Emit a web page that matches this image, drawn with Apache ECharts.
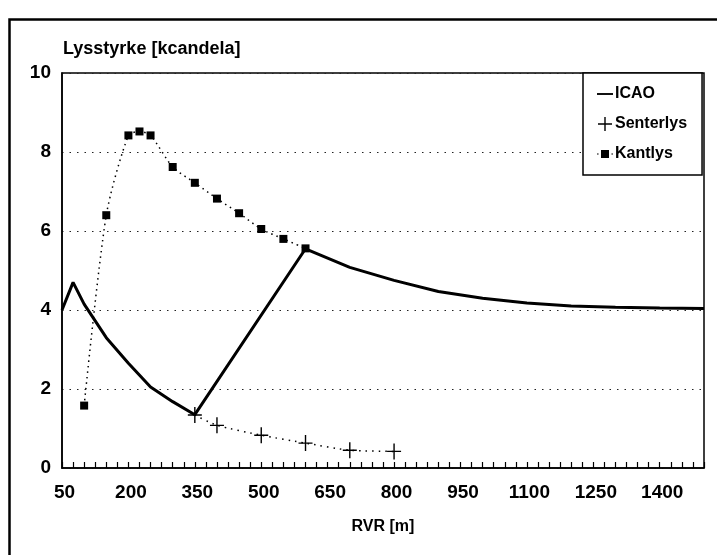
<!DOCTYPE html>
<html>
<head>
<meta charset="utf-8">
<script src="https://cdn.jsdelivr.net/npm/echarts@6/dist/echarts.min.js"></script>
<style>
html,body{margin:0;padding:0;background:#fff;}
#c{width:717px;height:555px;}
</style>
</head>
<body>
<div id="c"></div>
<script>
// ---- data ----
var icaoX = [50, 75, 100, 150, 200, 250, 300, 350, 600, 700, 800, 900, 1000, 1100, 1200, 1300, 1400, 1500];
var icaoY = [4.0, 4.7, 4.15, 3.3, 2.65, 2.05, 1.68, 1.35, 5.55, 5.08, 4.75, 4.47, 4.3, 4.18, 4.1, 4.07, 4.05, 4.04];

var senterX = [350, 400, 500, 600, 700, 800];
var senterY = [1.34, 1.08, 0.83, 0.63, 0.45, 0.42];

var kantX = [100, 150, 200, 225, 250, 300, 350, 400, 450, 500, 550, 600];
var kantY = [1.58, 6.4, 8.42, 8.52, 8.42, 7.62, 7.22, 6.82, 6.45, 6.05, 5.8, 5.56];

var xLabels = [50, 200, 350, 500, 650, 800, 950, 1100, 1250, 1400];
var yLabels = [0, 2, 4, 6, 8, 10];
var xMin = 50, xMax = 1500, xMinorStep = 25;

var seriesNames = ['ICAO', 'Senterlys', 'Kantlys'];
var yTitle = 'Lysstyrke [kcandela]';
var xTitle = 'RVR [m]';

// ---- build ----
function pairs(xs, ys) { return xs.map(function (x, i) { return [x, ys[i]]; }); }
var xTickVals = [];
for (var t = xMin; t <= xMax; t += xMinorStep) xTickVals.push(t);

var FONT = '"Liberation Sans", Arial, sans-serif';
var crossPath = 'path://M0,8.2h16v1.6h-16z M7.2,0h1.6v18h-1.6z';
var legendIcons = [
  'path://M2,7.3h12v1.4h-12z',
  'path://M1,6.3h14v1.4h-14z M7.3,0h1.4v14h-1.4z',
  'path://M0,6.4h1.6v1.2h-1.6z M4,3h8v8h-8z M14.4,6.4h1.6v1.2h-1.6z'
];

var chart = echarts.init(document.getElementById('c'), null, {renderer: 'canvas'});
chart.setOption({
  backgroundColor: '#fff',
  animation: false,
  textStyle: {fontFamily: FONT},
  graphic: [{
    type: 'rect', left: 7, top: 17, z: -10,
    shape: {x: 0, y: 0, width: 730, height: 560},
    style: {fill: 'none', stroke: '#000', lineWidth: 2.5}
  }],
  title: {
    text: yTitle, left: 58, top: 35,
    textStyle: {fontFamily: FONT, fontSize: 18, fontWeight: 'bold', color: '#000'}
  },
  grid: {
    left: 62, right: 13, top: 73, bottom: 87,
    show: true, borderColor: '#000', borderWidth: 1.5, backgroundColor: 'transparent'
  },
  legend: {
    data: seriesNames.map(function (n, i) { return {name: n, icon: legendIcons[i]}; }),
    orient: 'vertical',
    left: 583, top: 73,
    padding: [13, 15, 13, 14],
    itemGap: 14,
    itemWidth: 16, itemHeight: 14,
    symbolKeepAspect: true,
    backgroundColor: '#fff',
    borderColor: '#000', borderWidth: 1.5,
    itemStyle: {color: '#000', borderWidth: 0},
    lineStyle: {width: 0},
    textStyle: {fontFamily: FONT, fontSize: 16, lineHeight: 14, fontWeight: 'bold', color: '#000', padding: [0, 0, 0, -3]}
  },
  xAxis: {
    type: 'value', min: xMin, max: xMax,
    name: xTitle, nameLocation: 'middle', nameGap: 51,
    nameTextStyle: {fontFamily: FONT, fontSize: 16, fontWeight: 'bold', color: '#000'},
    axisLine: {show: true, onZero: false, lineStyle: {color: '#000', width: 1.5}},
    axisTick: {show: true, inside: true, length: 6, customValues: xTickVals, lineStyle: {color: '#000', width: 1.2}},
    axisLabel: {
      show: true, customValues: xLabels, margin: 15, fontFamily: FONT, fontSize: 19, fontWeight: 'bold', color: '#000',
      padding: [0, 0, 0, 5],
      formatter: function (v) { return String(v); }
    },
    splitLine: {show: false},
    minorTick: {show: false}
  },
  yAxis: {
    type: 'value', min: 0, max: 10, interval: 2,
    axisLine: {show: true, lineStyle: {color: '#000', width: 1.5}},
    axisTick: {show: false},
    axisLabel: {margin: 11, fontFamily: FONT, fontSize: 19, fontWeight: 'bold', color: '#000',
      formatter: function (v) { return String(v); }},
    splitLine: {show: true, lineStyle: {color: '#222', width: 1.2, type: [1.5, 6]}}
  },
  series: [
    {
      name: seriesNames[0], type: 'line', data: pairs(icaoX, icaoY),
      symbol: 'none', showSymbol: false,
      lineStyle: {color: '#000', width: 3},
      itemStyle: {color: '#000'}, z: 3
    },
    {
      name: seriesNames[1], type: 'line', data: pairs(senterX, senterY),
      symbol: crossPath, symbolSize: [14, 16], showSymbol: true,
      smooth: 0.2,
      lineStyle: {color: '#000', width: 1.5, type: [1.5, 5]},
      itemStyle: {color: '#000'}, z: 4
    },
    {
      name: seriesNames[2], type: 'line', data: pairs(kantX, kantY),
      symbol: 'rect', symbolSize: 8, showSymbol: true,
      smooth: 0.25,
      lineStyle: {color: '#000', width: 1.5, type: [1.5, 4]},
      itemStyle: {color: '#000'}, z: 4
    }
  ]
});
</script>
</body>
</html>
